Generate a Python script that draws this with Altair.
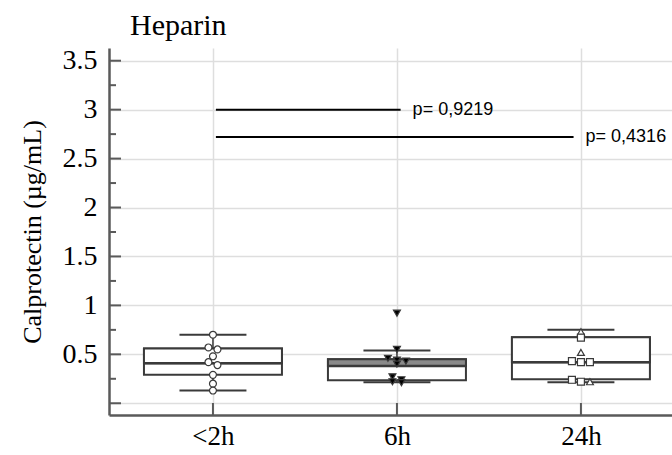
import json
import altair as alt
import pandas as pd

# ---------------- data ----------------
groups = ["<2h", "6h", "24h"]

values_lt2h = [0.70, 0.57, 0.55, 0.48, 0.42, 0.39, 0.29, 0.20, 0.13]
values_6h = [0.92, 0.55, 0.46, 0.44, 0.43, 0.40, 0.27, 0.24, 0.22, 0.21]
values_24h = [0.73, 0.67, 0.52, 0.43, 0.42, 0.42, 0.24, 0.22, 0.22]
markers_24h = ["triangle-up", "square", "triangle-up", "square", "square",
               "square", "square", "square", "triangle-up"]

box_q1 = [0.29, 0.235, 0.245]
box_median = [0.41, 0.38, 0.42]
box_q3 = [0.56, 0.45, 0.675]
whisker_low = [0.13, 0.215, 0.215]
whisker_high = [0.70, 0.54, 0.75]

p_labels = ["p= 0,9219", "p= 0,4316"]
p_from = ["<2h", "<2h"]
p_to = ["6h", "24h"]
p_level = [3.0, 2.72]

chart_title = "Heparin"
y_title = "Calprotectin (µg/mL)"
y_tick_values = [0, 0.5, 1, 1.5, 2, 2.5, 3, 3.5]
y_minor_values = [0.25, 0.75, 1.25, 1.75, 2.25, 2.75, 3.25]

# ---------------- style / layout ----------------
W, H = 563, 367
X_DOMAIN = [-0.565, 2.495]
Y_DOMAIN = [-0.12, 3.63]
PX_PER_UNIT = W / (X_DOMAIN[1] - X_DOMAIN[0])
BOX_HALF = 0.375
CAP_HALF = 0.182
SERIF = "Liberation Serif"
SANS = "Liberation Sans"
DARK = "#3a3a3a"
AXIS_C = "#5a5a5a"
GRID_C = "#dedede"
group_fill = {"<2h": "white", "6h": "black", "24h": "white"}
upper_fill = {"<2h": "white", "6h": "#8a8a8a", "24h": "white"}
line_end_shift = [0.02, -0.04]


def spread(vals, gap=0.031, step=9.0):
    """simple beeswarm: horizontally separate nearly equal values (pixels)"""
    order = sorted(range(len(vals)), key=lambda i: -vals[i])
    offs = [0.0] * len(vals)
    clusters, cur = [], []
    for i in order:
        if cur and abs(vals[cur[0]] - vals[i]) > gap:
            clusters.append(cur)
            cur = []
        cur.append(i)
    if cur:
        clusters.append(cur)
    for c in clusters:
        n = len(c)
        for k, i in enumerate(c):
            offs[i] = (k - (n - 1) / 2) * step
    return offs


rows = []
for g, vals, marks in [
    ("<2h", values_lt2h, ["circle"] * len(values_lt2h)),
    ("6h", values_6h, ["triangle-down"] * len(values_6h)),
    ("24h", values_24h, markers_24h),
]:
    offs = spread(vals)
    for v, m, o in zip(vals, marks, offs):
        rows.append({"pos": groups.index(g), "value": v, "shape": m,
                     "fill": group_fill[g], "dx": o})
points_df = pd.DataFrame(rows)

box_df = pd.DataFrame({
    "pos": list(range(len(groups))),
    "q1": box_q1, "median": box_median, "q3": box_q3,
    "lo": whisker_low, "hi": whisker_high,
    "ufill": [upper_fill[g] for g in groups],
})

p_df = pd.DataFrame({
    "x0": [groups.index(a) + 0.016 for a in p_from],
    "x1": [groups.index(b) + s for b, s in zip(p_to, line_end_shift)],
    "level": p_level,
    "label": p_labels,
})

ticks_df = pd.DataFrame({"v": y_tick_values})
minor_df = pd.DataFrame({"v": y_minor_values})
xt_df = pd.DataFrame({"pos": list(range(len(groups)))})
title_df = pd.DataFrame({"t": [chart_title]})

xs = alt.Scale(domain=X_DOMAIN, nice=False, zero=False)
ys = alt.Scale(domain=Y_DOMAIN, nice=False, zero=False)

x_axis = alt.Axis(
    values=list(range(len(groups))),
    labelExpr=f"{json.dumps(groups)}[datum.value]",
    title=None, grid=True, gridColor=GRID_C, gridWidth=1.5,
    ticks=False, domain=True, domainColor=AXIS_C, domainWidth=2.5,
    labelFont=SERIF, labelFontSize=27, labelColor="black", labelPadding=8,
    labelFlush=False,
)
y_axis = alt.Axis(
    values=y_tick_values,
    labelExpr="datum.value == 0 ? '' : format(datum.value, '~g')",
    title=y_title, titleFont=SERIF, titleFontSize=26,
    titleFontWeight="normal", titleColor="black", titlePadding=17,
    grid=True, gridColor=GRID_C, gridWidth=1.5,
    ticks=False, domain=True, domainColor=AXIS_C, domainWidth=2.5,
    labelFont=SERIF, labelFontSize=28, labelColor="black", labelPadding=12,
    labelFlush=False,
)


def X(field):
    return alt.X(field, scale=xs, axis=x_axis)


def Y(field):
    return alt.Y(field, scale=ys, axis=y_axis)


box_base = alt.Chart(box_df).transform_calculate(
    xl=f"datum.pos - {BOX_HALF}", xr=f"datum.pos + {BOX_HALF}",
    cl=f"datum.pos - {CAP_HALF}", cr=f"datum.pos + {CAP_HALF}",
)

whisk_up = box_base.mark_rule(color=DARK, strokeWidth=1.5).encode(
    x=X("pos:Q"), y=Y("q3:Q"), y2="hi:Q")
whisk_dn = box_base.mark_rule(color=DARK, strokeWidth=1.5).encode(
    x=X("pos:Q"), y=Y("lo:Q"), y2="q1:Q")
box_rect = box_base.mark_rect(fill="white", stroke=DARK, strokeWidth=2).encode(
    x=X("xl:Q"), x2="xr:Q", y=Y("q1:Q"), y2="q3:Q")
box_upper = box_base.mark_rect(stroke=DARK, strokeWidth=2).encode(
    x=X("xl:Q"), x2="xr:Q", y=Y("median:Q"), y2="q3:Q",
    fill=alt.Fill("ufill:N", scale=None))
med = box_base.mark_rule(color=DARK, strokeWidth=2.5).encode(
    x=X("xl:Q"), x2="xr:Q", y=Y("median:Q"))
cap_hi = box_base.mark_rule(color=DARK, strokeWidth=2).encode(
    x=X("cl:Q"), x2="cr:Q", y=Y("hi:Q"))
cap_lo = box_base.mark_rule(color=DARK, strokeWidth=2).encode(
    x=X("cl:Q"), x2="cr:Q", y=Y("lo:Q"))

pts = alt.Chart(points_df).transform_calculate(
    xp=f"datum.pos + datum.dx / {PX_PER_UNIT}"
).mark_point(
    filled=True, stroke=DARK, strokeWidth=1.2, size=48, opacity=1
).encode(
    x=X("xp:Q"),
    y=Y("value:Q"),
    shape=alt.Shape("shape:N", scale=None),
    fill=alt.Fill("fill:N", scale=None),
)

p_lines = alt.Chart(p_df).mark_rule(color="black", strokeWidth=2).encode(
    x=X("x0:Q"), x2="x1:Q", y=Y("level:Q"))
p_text = alt.Chart(p_df).mark_text(
    align="left", baseline="middle", dx=12, font=SANS, fontSize=18, color="black"
).encode(x=X("x1:Q"), y=Y("level:Q"), text="label:N")

ytick_major = alt.Chart(ticks_df).mark_rule(color=AXIS_C, strokeWidth=2).encode(
    x=alt.value(0), x2=alt.value(12), y=Y("v:Q"))
ytick_minor = alt.Chart(minor_df).mark_rule(color=AXIS_C, strokeWidth=2).encode(
    x=alt.value(0), x2=alt.value(7), y=Y("v:Q"))
xtick = alt.Chart(xt_df).mark_rule(color=AXIS_C, strokeWidth=2).encode(
    x=X("pos:Q"), y=alt.value(H), y2=alt.value(H - 12))

title_mark = alt.Chart(title_df).mark_text(
    align="left", baseline="alphabetic", font=SERIF, fontSize=30, color="black"
).encode(x=alt.value(21), y=alt.value(-13), text="t:N")

chart = alt.layer(
    whisk_up, whisk_dn, box_rect, box_upper, med, cap_hi, cap_lo,
    p_lines, p_text, pts, ytick_major, ytick_minor, xtick, title_mark,
).properties(
    width=W, height=H,
    padding={"left": 109, "top": 48, "right": 0, "bottom": 40},
    autosize=alt.AutoSizeParams(type="none"),
).configure(background="white").configure_view(stroke=None)

chart.save("out.html", embed_options={"renderer": "svg", "actions": False})
